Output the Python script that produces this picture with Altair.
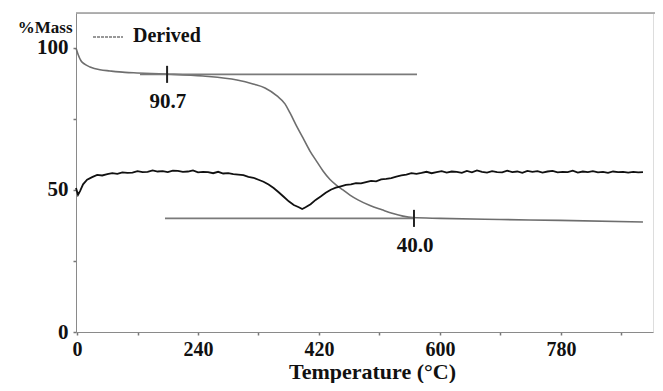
import altair as alt
import pandas as pd

# ---- data ----
tga_temp = [58.5, 61.5, 65.9, 71.9, 79.3, 94.2, 109.1, 131.4, 149.3, 193.9, 247.4, 298.0,
            321.8, 339.7, 357.5, 369.4, 376.9, 387.3, 396.2, 406.6, 417.0, 426.0, 436.4,
            445.3, 455.7, 466.1, 478.0, 495.9, 513.7, 530.1, 545.0, 559.8, 600.0, 689.3,
            778.5, 902.0]
tga_mass = [100.0, 97.8, 95.5, 94.2, 93.3, 92.3, 91.9, 91.4, 91.2, 90.8, 90.1, 88.7,
            87.3, 85.9, 83.1, 80.3, 77.1, 72.2, 68.3, 63.7, 59.9, 56.7, 53.7,
            51.8, 50.0, 48.2, 46.5, 44.5, 43.0, 41.7, 40.8, 40.3, 40.0, 39.6,
            39.3, 38.7]

der_points = [
    (58.5, 50.7), (61.5, 48.3), (64.5, 49.6), (69, 52.0), (75, 53.6), (82.5, 54.5),
    (90, 55.3), (97.5, 55.1), (105, 55.6), (112.5, 55.9), (120, 55.7), (127.5, 56.2),
    (135, 56.0), (142.5, 56.1), (150, 56.6), (157.5, 56.3), (165, 56.4), (172.5, 56.9),
    (180, 56.5), (187.5, 56.6), (195, 56.3), (202.5, 56.8), (210, 56.7), (217.5, 56.4),
    (225, 56.5), (232.5, 56.9), (240, 56.2), (247.5, 56.4), (255, 56.3), (262.5, 55.9),
    (270, 56.4), (277.5, 55.8), (285, 55.9), (292.5, 55.6), (300, 55.4), (307.5, 55.2),
    (315, 54.6), (322.5, 54.3), (330, 53.6), (337.5, 52.9), (345, 51.9), (352.5, 50.7),
    (360, 49.2), (367.5, 47.6), (375, 46.0), (382.5, 44.7), (390, 43.9), (395, 43.3),
    (400, 43.9), (407.5, 45.0), (415, 46.5), (422.5, 47.7), (430, 49.0), (437.5, 50.1),
    (445, 50.8), (452.5, 51.3), (460, 51.8), (467.5, 52.0), (475, 52.4), (482.5, 52.3),
    (490, 52.8), (497.5, 53.2), (505, 53.0), (512.5, 53.7), (520, 53.9), (527.5, 54.2),
    (535, 54.7), (542.5, 55.1), (550, 55.4), (557.5, 55.9), (565, 55.7), (572.5, 56.0),
    (580, 56.4), (587.5, 55.9), (595, 56.3), (602.5, 56.6), (610, 56.1), (617.5, 56.5),
    (625, 56.4), (632.5, 56.0), (640, 56.7), (647.5, 56.2), (655, 56.9), (662.5, 56.4),
    (670, 56.1), (677.5, 56.6), (685, 56.3), (692.5, 56.2), (700, 56.8), (707.5, 56.3),
    (715, 56.5), (722.5, 56.0), (730, 56.7), (737.5, 56.4), (745, 56.6), (752.5, 56.1),
    (760, 56.5), (767.5, 56.7), (775, 56.2), (782.5, 56.4), (790, 56.3), (797.5, 56.8),
    (805, 56.1), (812.5, 56.5), (820, 56.3), (827.5, 56.6), (835, 56.2), (842.5, 56.4),
    (850, 56.0), (857.5, 56.5), (865, 56.3), (872.5, 56.4), (880, 56.1), (887.5, 56.4),
    (895, 56.2), (902, 56.3),
]
der_temp = [p[0] for p in der_points]
der_val = [p[1] for p in der_points]

# construction lines (onset / residue levels)
hl_start = [153.7, 190.9]
hl_end = [565.8, 561.3]
hl_level = [90.7, 40.0]
hl_label = ["90.7", "40.0"]
marker_temp = [194.0, 561.3]
label_temp = [195.0, 563.0]
label_level = [78.9, 28.2]

x_tick_values = [60, 150, 240, 330, 420, 510, 600, 690, 780, 870]
x_label_values = [60, 240, 420, 600, 780]
x_label_texts = ["0", "240", "420", "600", "780"]
y_tick_values = [0, 25, 50, 75, 100]
y_label_values = [0, 50, 100]
y_top = 112.3

FONT = "Liberation Serif"

tga_df = pd.DataFrame({"T": tga_temp, "v": tga_mass})
der_df = pd.DataFrame({"T": der_temp, "v": der_val})
hl_df = pd.DataFrame({"T": hl_start, "T2": hl_end, "v": hl_level})
mk_df = pd.DataFrame({"T": marker_temp, "lo": [l - 3.0 for l in hl_level],
                      "hi": [l + 3.0 for l in hl_level]})
lab_df = pd.DataFrame({"T": label_temp, "v": label_level, "txt": hl_label})

x_expr = " : ".join(f"datum.value == {v} ? '{t}'" for v, t in zip(x_label_values, x_label_texts)) + " : ''"
y_expr = " : ".join(f"datum.value == {v} ? '{v}'" for v in y_label_values) + " : ''"

W = 577
xscale = alt.Scale(domain=[58.5, 916.9], nice=False, zero=False)
yscale = alt.Scale(domain=[0, y_top], nice=False, zero=True)

x_axis = alt.Axis(values=x_tick_values, labelExpr=x_expr, grid=False,
                  domainColor="#8a8a8a", tickColor="#777777", tickSize=3, tickWidth=1.5,
                  labelFont=FONT, labelFontWeight="bold", labelFontSize=20, labelColor="#111111",
                  labelBaseline="alphabetic", labelPadding=20, labelFlush=False,
                  titleFont=FONT, titleFontWeight="bold", titleFontSize=22, titleColor="#111111",
                  titleBaseline="alphabetic", titleY=46, titleX=296)
y_axis = alt.Axis(values=y_tick_values, labelExpr=y_expr, grid=False,
                  domainColor="#8a8a8a", tickColor="#777777", tickSize=3, tickWidth=1.5,
                  labelFont=FONT, labelFontWeight="bold", labelFontSize=21, labelColor="#111111",
                  labelPadding=5, labelFlush=False,
                  titleFont=FONT, titleFontWeight="bold", titleFontSize=17, titleColor="#111111",
                  titleAngle=0, titleAlign="right", titleBaseline="alphabetic",
                  titleX=-4, titleY=19)

X = alt.X("T:Q", scale=xscale, axis=x_axis, title="Temperature (°C)")
Y = alt.Y("v:Q", scale=yscale, axis=y_axis, title="%Mass")

tga = alt.Chart(tga_df).mark_line(color="#6e6e6e", strokeWidth=1.6, interpolate="monotone").encode(x=X, y=Y)
der = alt.Chart(der_df).mark_line(color="#111111", strokeWidth=1.8).encode(x=X, y=Y)
hl = alt.Chart(hl_df).mark_rule(color="#7a7a7a", strokeWidth=1.6).encode(x=X, x2="T2:Q", y=Y)
mk = alt.Chart(mk_df).mark_rule(color="#222222", strokeWidth=2).encode(
    x=X, y=alt.Y("lo:Q", scale=yscale, axis=y_axis, title="%Mass"), y2="hi:Q")
lab = alt.Chart(lab_df).mark_text(font=FONT, fontWeight="bold", fontSize=21, color="#111111",
                                  baseline="alphabetic", align="center").encode(x=X, y=Y, text="txt:N")

top_df = pd.DataFrame({"v": [y_top]})
top = alt.Chart(top_df).mark_rule(color="#9a9a9a", strokeWidth=1.5).encode(
    x=alt.value(0), x2=alt.value(W + 2), y=Y)

leg_df = pd.DataFrame({"name": ["Derived"]})
leg_line = alt.Chart(leg_df).mark_rule(color="#777777", strokeWidth=1.6, strokeDash=[3, 1]).encode(
    x=alt.value(17), x2=alt.value(47), y=alt.value(24))
leg_text = alt.Chart(leg_df).mark_text(font=FONT, fontWeight="bold", fontSize=20, color="#111111",
                                       align="left", baseline="alphabetic").encode(
    x=alt.value(57), y=alt.value(29), text="name:N")

chart = alt.layer(top, tga, der, hl, mk, lab, leg_line, leg_text).properties(
    width=W, height=319,
    padding={"left": 68, "top": 5, "right": 2, "bottom": 51},
    autosize=alt.AutoSizeParams(type="none"),
).configure_view(stroke=None).configure(background="white")

chart.save("out.html", embed_options={"renderer": "svg", "actions": False})
